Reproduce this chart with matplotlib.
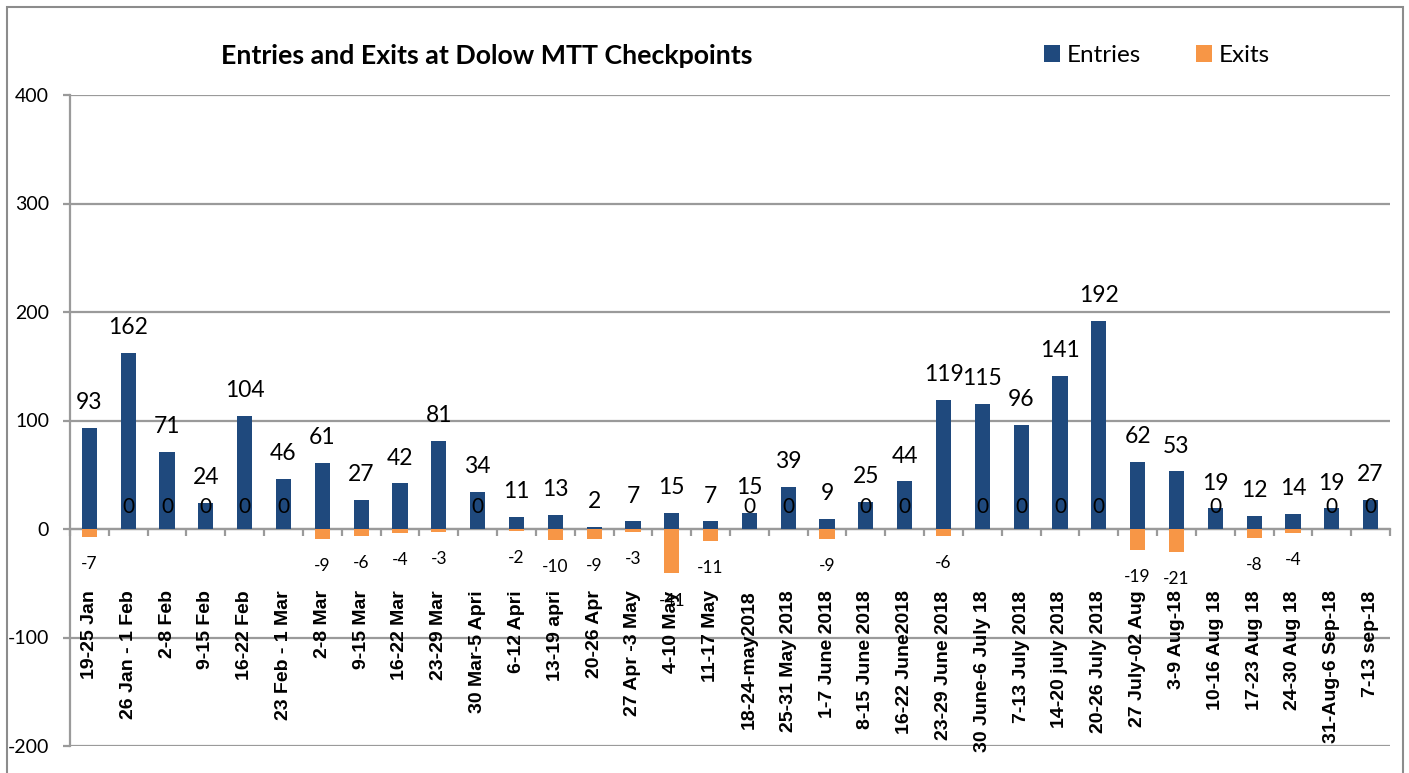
import matplotlib
matplotlib.use("Agg")
import matplotlib.pyplot as plt
from matplotlib.patches import Rectangle
import numpy as np

categories = ["19-25 Jan", "26 Jan - 1 Feb", "2-8 Feb", "9-15 Feb", "16-22 Feb",
              "23 Feb - 1 Mar", "2-8 Mar", "9-15 Mar", "16-22 Mar", "23-29 Mar",
              "30 Mar-5 Apri", "6-12 Apri", "13-19 apri", "20-26 Apr", "27 Apr -3 May",
              "4-10 May", "11-17 May", "18-24-may2018", "25-31 May 2018", "1-7 June 2018",
              "8-15 June 2018", "16-22 June2018", "23-29 June 2018", "30 June-6 July 18",
              "7-13 July 2018", "14-20 july 2018", "20-26 July 2018", "27 July-02 Aug",
              "3-9 Aug-18", "10-16 Aug 18", "17-23 Aug 18", "24-30 Aug 18",
              "31-Aug-6 Sep-18", "7-13 sep-18"]
entries = [93, 162, 71, 24, 104, 46, 61, 27, 42, 81, 34, 11, 13, 2, 7, 15, 7, 15, 39, 9,
           25, 44, 119, 115, 96, 141, 192, 62, 53, 19, 12, 14, 19, 27]
exits = [-7, 0, 0, 0, 0, 0, -9, -6, -4, -3, 0, -2, -10, -9, -3, -41, -11, 0, 0, -9,
         0, 0, -6, 0, 0, 0, 0, -19, -21, 0, -8, -4, 0, 0]
yticks = [-200, -100, 0, 100, 200, 300, 400]

ENTRY_C = "#1F497D"
EXIT_C = "#F79646"
GRID_C = "#9a9a9a"
BODY = "Lato"

W, H = 1409, 773
fig = plt.figure(figsize=(W / 100, H / 100), dpi=100)
ax = fig.add_axes([70 / W, 1 - 746 / H, (1390 - 70) / W, (746 - 95) / H])

x = np.arange(len(categories))
bw = 0.39
b1 = ax.bar(x, entries, bw, color=ENTRY_C, label="Entries", zorder=3)
b2 = ax.bar(x, exits, bw, color=EXIT_C, label="Exits", zorder=3)

ax.set_xlim(-0.5, len(categories) - 0.5)
ax.set_ylim(-200, 400)
ax.set_yticks(yticks)
ax.set_yticklabels([str(v) for v in yticks], fontname=BODY, fontsize=14)
ax.grid(axis="y", color=GRID_C, lw=1.6, zorder=0)
for s in ["top", "right"]:
    ax.spines[s].set_visible(False)
ax.spines["left"].set_color(GRID_C)
ax.spines["left"].set_linewidth(1.6)
ax.spines["bottom"].set_position(("data", 0))
ax.spines["bottom"].set_color(GRID_C)
ax.spines["bottom"].set_linewidth(1.6)
ax.set_xticks(np.arange(len(categories) + 1) - 0.5)
ax.set_xticklabels([])
ax.tick_params(axis="x", length=5, width=1.6, color=GRID_C, direction="out")
ax.tick_params(axis="y", length=5, width=1.6, color=GRID_C, pad=10)

# entries labels (outside end)
for xi, v in zip(x, entries):
    ax.annotate(str(v), (xi, v), xytext=(0, 13.5), textcoords="offset points",
                ha="center", va="baseline", fontname=BODY, fontsize=16.5, zorder=5)
# exits labels
for xi, v in zip(x, exits):
    if v == 0:
        ax.text(xi, 20, "0", ha="center", va="center", fontname=BODY, fontsize=15, zorder=5)
    else:
        ax.annotate(str(v), (xi, v), xytext=(0, -19.5), textcoords="offset points",
                    ha="center", va="center", fontname=BODY, fontsize=12.5, zorder=5)

# category labels
for xi, c in zip(x, categories):
    ax.text(xi, -56.5, c, rotation=90, ha="center", va="top", fontname="Liberation Sans",
            fontweight="bold", fontsize=14, zorder=6, clip_on=False)

fig.text(487 / W, 1 - 56 / H, "Entries and Exits at Dolow MTT Checkpoints",
         ha="center", va="center", fontname=BODY, fontweight="bold", fontsize=19.3)

fig.legend(handles=[b1, b2], labels=["Entries", "Exits"], loc="center left",
           bbox_to_anchor=(1044 / W, 1 - 55.5 / H), ncol=2, frameon=False,
           prop={"family": BODY, "size": 17.5}, handlelength=0.65, handleheight=0.65,
           handletextpad=0.29, columnspacing=2.26, borderpad=0, borderaxespad=0)

fig.patches.append(Rectangle((7 / W, -0.02), (1403 - 7) / W, 1.02 - 7 / H,
                             transform=fig.transFigure, fill=False,
                             edgecolor="#8c8c8c", lw=1.5))

fig.savefig("out.png", dpi=100)
